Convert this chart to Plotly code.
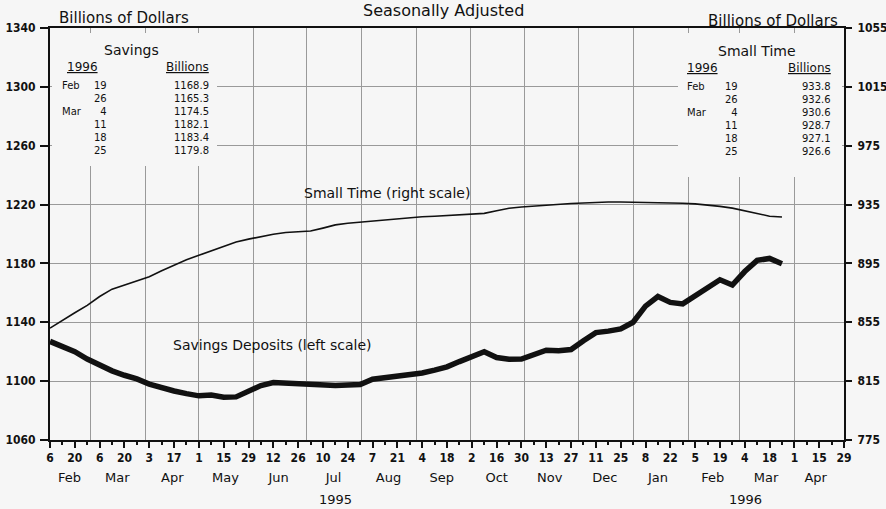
import pandas as pd
import plotly.graph_objects as go

# ---------------- data ----------------
week_start = "1995-02-06"
n_weeks = 60
savings = [1127, 1123.5, 1120, 1115, 1110.5, 1107, 1104, 1101.5, 1098, 1095.5,
           1093.3, 1091.5, 1090, 1090.5, 1089, 1089.3, 1093, 1097, 1099, 1098.5,
           1098, 1097.2, 1096.8, 1097, 1097.3, 1097.7, 1101.3, 1102.3, 1103.2, 1104.2,
           1105.5, 1107.5, 1109.7, 1113.3, 1117, 1120, 1116, 1114.9, 1115, 1117.6,
           1121, 1120.6, 1121.5, 1127.5, 1133, 1134, 1135.5, 1140, 1151, 1157.5,
           1153.5, 1152.5, 1158, 1164, 1168.9, 1165.3, 1174.5, 1182.1, 1183.4, 1179.8]
small_time = [851, 856.5, 861.5, 866.5, 872.5, 877.5, 880.5, 883.5, 886, 890,
              894, 897.5, 900.5, 903.5, 907, 909.5, 911.5, 913.3, 914.8, 916,
              916.7, 917, 919, 921.2, 922.3, 923.1, 923.8, 924.6, 925.4, 926.1,
              926.7, 927.1, 927.5, 928, 928.5, 929, 930.8, 932.5, 933.3, 934,
              934.8, 935.1, 935.7, 936.1, 936.5, 936.7, 936.7, 936.6, 936.5, 936.3,
              936.1, 935.9, 935.5, 934.8, 933.8, 932.6, 930.6, 928.7, 927.1, 926.6]
table_rows = 6  # last six weeks shown in tables

x_range = ["1995-02-06", "1996-04-29"]
left_ticks = [1060, 1100, 1140, 1180, 1220, 1260, 1300, 1340]
right_ticks = [775, 815, 855, 895, 935, 975, 1015, 1055]
month_names = ["Feb", "Mar", "Apr", "May", "Jun", "Jul", "Aug", "Sep", "Oct",
               "Nov", "Dec", "Jan", "Feb", "Mar", "Apr"]
month_label_dates = ["1995-02-17", "1995-03-16", "1995-04-16", "1995-05-16",
                     "1995-06-15", "1995-07-16", "1995-08-16", "1995-09-15",
                     "1995-10-16", "1995-11-15", "1995-12-16", "1996-01-15",
                     "1996-02-15", "1996-03-16", "1996-04-13"]
month_starts = pd.date_range("1995-03-01", "1996-04-01", freq="MS")

dates = pd.date_range(week_start, periods=n_weeks, freq="7D")
label_mondays = pd.date_range(x_range[0], x_range[1], freq="14D")
all_mondays = pd.date_range(x_range[0], x_range[1], freq="7D")

# ---------------- layout helpers ----------------
W, H = 886, 509
L, R, T, B = 50, 844, 28, 440
BG = "#f6f6f6"
FONT = "DejaVu Sans"
NUMFONT = "DejaVu Sans Condensed"


def px(x):
    return (x - L) / (R - L)


def py(y):
    return (B - y) / (B - T)


fig = go.Figure()
fig.add_trace(go.Scatter(x=dates, y=savings, mode="lines",
                         line=dict(color="#111", width=5.5), yaxis="y",
                         showlegend=False, hoverinfo="x+y"))
fig.add_trace(go.Scatter(x=dates, y=small_time, mode="lines",
                         line=dict(color="#111", width=1.6), yaxis="y2",
                         showlegend=False, hoverinfo="x+y"))
# helper traces so that overlay axes render
for ax in ["x2", "x3"]:
    fig.add_trace(go.Scatter(x=x_range, y=[None, None], xaxis=ax, mode="lines",
                             showlegend=False, hoverinfo="skip"))

tickfont = dict(family=NUMFONT, size=12, color="#111", weight="bold")

fig.update_layout(
    width=W, height=H, autosize=False,
    margin=dict(l=L, r=W - R, t=T, b=H - B, pad=0, autoexpand=False),
    paper_bgcolor=BG, plot_bgcolor=BG,
    font=dict(family=FONT, color="#111"),
    xaxis=dict(type="date", range=x_range, tickmode="array", automargin=False,
               tickvals=label_mondays, ticktext=[str(d.day) for d in label_mondays],
               ticks="outside", ticklen=6, tickwidth=2, tickcolor="#111",
               tickfont=tickfont, showgrid=False, zeroline=False,
               showline=True, linewidth=2, linecolor="#111", mirror=True,
               minor=dict(tickvals=all_mondays, ticks="outside", ticklen=3,
                          tickwidth=1.5, tickcolor="#111", showgrid=False)),
    xaxis2=dict(type="date", range=x_range, overlaying="x", tickmode="array",
                tickvals=month_starts, showticklabels=False, ticks="",
                showgrid=True, gridcolor="#9a9a9a", gridwidth=1, zeroline=False,
                showline=False, automargin=False),
    xaxis3=dict(type="date", range=x_range, overlaying="x", side="bottom",
                tickmode="array", tickvals=month_label_dates, ticktext=month_names,
                ticks="", showgrid=False, zeroline=False, showline=False,
                ticklabelstandoff=28, automargin=False,
                tickfont=dict(family=FONT, size=13, color="#111")),
    yaxis=dict(range=[left_ticks[0], left_ticks[-1]], tickmode="array",
               tickvals=left_ticks, ticks="outside", ticklen=8, tickwidth=2,
               tickcolor="#111", tickfont=tickfont, showgrid=True,
               gridcolor="#9a9a9a", gridwidth=1, zeroline=False, showline=True,
               linewidth=2, linecolor="#111", mirror=True, ticklabelstandoff=2,
               automargin=False),
    yaxis2=dict(range=[right_ticks[0], right_ticks[-1]], overlaying="y",
                side="right", tickmode="array", tickvals=right_ticks,
                ticks="outside", ticklen=6, tickwidth=2, tickcolor="#111",
                tickfont=tickfont, showgrid=False, zeroline=False,
                showline=True, linewidth=2, linecolor="#111",
                ticklabelstandoff=3, automargin=False),
)

# boxes behind the tables
for x0, x1, y0, y1 in [(52, 217, 33, 166), (678, 842, 33, 177)]:
    fig.add_shape(type="rect", xref="paper", yref="paper",
                  x0=px(x0), x1=px(x1), y0=py(y1), y1=py(y0),
                  fillcolor=BG, line=dict(width=0), layer="above")


def ann(text, x, y, size=13, xanchor="center", yanchor="middle", align="center"):
    fig.add_annotation(text=text, x=px(x), y=py(y), xref="paper", yref="paper",
                       xanchor=xanchor, yanchor=yanchor, align=align,
                       showarrow=False,
                       font=dict(family=FONT, size=size, color="#111"))


ann("Seasonally Adjusted", 443, 11, size=16)
ann("Billions of Dollars", 57, 18, size=15, xanchor="left")
ann("Billions of Dollars", 840, 21, size=15, xanchor="right")
ann("Small Time (right scale)", 387, 193, size=14)
ann("Savings Deposits (left scale)", 272, 345, size=14)
ann("1995", 335, 499, size=13)
ann("1996", 745, 499, size=13)

tab_dates = dates[-table_rows:]
tab_sav = savings[-table_rows:]
tab_st = small_time[-table_rows:]


def table(title, title_x, x_month, x_day, x_val, x_year, y0, values):
    ann(title, title_x, y0, size=14)
    ann("<u>%d</u>" % tab_dates[0].year, x_year, y0 + 17, size=12, xanchor="left")
    ann("<u>Billions</u>", x_val, y0 + 17, size=12, xanchor="right")
    months, prev = [], None
    for d in tab_dates:
        months.append(d.strftime("%b") if d.month != prev else "\u00a0")
        prev = d.month
    top = y0 + 28
    ann("<br>".join(months), x_month, top, size=10, xanchor="left",
        yanchor="top", align="left")
    ann("<br>".join(str(d.day) for d in tab_dates), x_day, top, size=10,
        xanchor="right", yanchor="top", align="right")
    ann("<br>".join("%.1f" % v for v in values), x_val, top, size=10,
        xanchor="right", yanchor="top", align="right")


table("Savings", 131, 60, 109, 211, 65, 50, tab_sav)
table("Small Time", 757, 685, 740, 833, 685, 51, tab_st)

fig.write_html(
    "out.html",
    config={"responsive": False, "displayModeBar": False},
    post_script="document.body.style.margin='0';document.body.style.overflow='hidden';",
)
